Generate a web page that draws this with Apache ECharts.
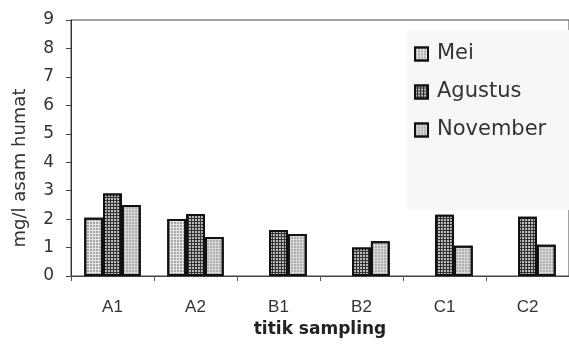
<!DOCTYPE html>
<html>
<head>
<meta charset="utf-8">
<script src="https://cdn.jsdelivr.net/npm/echarts@6/dist/echarts.min.js"></script>
<style>
html,body{margin:0;padding:0;background:#fff;}
#chart{width:569px;height:351px;}
</style>
</head>
<body>
<div id="chart"></div>
<script>
const categories = ['A1', 'A2', 'B1', 'B2', 'C1', 'C2'];
const seriesNames = ['Mei', 'Agustus', 'November'];
const meiValues = [2.05, 2.0, null, null, null, null];
const agustusValues = [2.9, 2.18, 1.62, 1.0, 2.15, 2.08];
const novemberValues = [2.5, 1.37, 1.48, 1.22, 1.06, 1.1];
const yTicks = [0, 1, 2, 3, 4, 5, 6, 7, 8, 9];

const chart = echarts.init(document.getElementById('chart'), null, {renderer: 'canvas'});

function barStyle(base, dot, dotSize) {
  return {
    color: base,
    borderColor: '#111',
    borderWidth: 2,
    decal: {
      symbol: 'circle',
      symbolSize: dotSize,
      dashArrayX: [2, 1],
      dashArrayY: [2, 1],
      color: dot,
      rotation: 0
    }
  };
}

chart.setOption({
  animation: false,
  backgroundColor: '#ffffff',
  aria: {enabled: true, decal: {show: true}},
  grid: {left: 71, top: 20, width: 507, bottom: 75, show: true, borderColor: '#444', borderWidth: 1, containLabel: false},
  legend: {
    orient: 'vertical',
    left: 407,
    top: 30,
    padding: [12, 80, 68, 7],
    backgroundColor: '#f7f7f7',
    itemWidth: 13,
    itemHeight: 13,
    itemGap: 14,
    icon: 'rect',
    textStyle: {fontFamily: 'DejaVu Sans', fontSize: 21, color: '#333', lineHeight: 24, padding: [0, 0, 0, 4]},
    data: seriesNames
  },
  xAxis: {
    type: 'category',
    data: categories,
    name: 'titik sampling',
    nameLocation: 'middle',
    nameGap: 43,
    nameTextStyle: {fontFamily: 'DejaVu Sans', fontSize: 17, fontWeight: 'bold', color: '#222'},
    axisLine: {lineStyle: {color: '#444', width: 1}},
    axisTick: {show: true, length: 5, lineStyle: {color: '#555'}},
    axisLabel: {fontFamily: 'Liberation Sans', fontSize: 17, color: '#333', margin: 23}
  },
  yAxis: {
    type: 'value',
    min: 0,
    max: 9,
    interval: 1,
    name: 'mg/l asam humat',
    nameLocation: 'middle',
    nameRotate: 90,
    nameGap: 42,
    nameTextStyle: {fontFamily: 'DejaVu Sans', fontSize: 18, color: '#333', padding: [0, 40, 0, 0]},
    splitLine: {show: false},
    axisLine: {show: true, lineStyle: {color: '#333', width: 1}},
    axisTick: {show: true, length: 5, lineStyle: {color: '#444'}},
    axisLabel: {fontFamily: 'DejaVu Sans', fontSize: 17, color: '#333', margin: 17,
      formatter: v => (yTicks.indexOf(v) >= 0 ? String(v) : '')}
  },
  series: [
    {name: seriesNames[0], type: 'bar', data: meiValues, barGap: '0%', barCategoryGap: '32%',
     itemStyle: barStyle('#e4e4e4', '#8a8a8a', 0.9)},
    {name: seriesNames[1], type: 'bar', data: agustusValues, barGap: '0%', barCategoryGap: '32%',
     itemStyle: barStyle('#333333', '#e8e8e8', 1)},
    {name: seriesNames[2], type: 'bar', data: novemberValues, barGap: '0%', barCategoryGap: '32%',
     itemStyle: barStyle('#d8d8d8', '#9a9a9a', 0.9)}
  ]
});
</script>
</body>
</html>
